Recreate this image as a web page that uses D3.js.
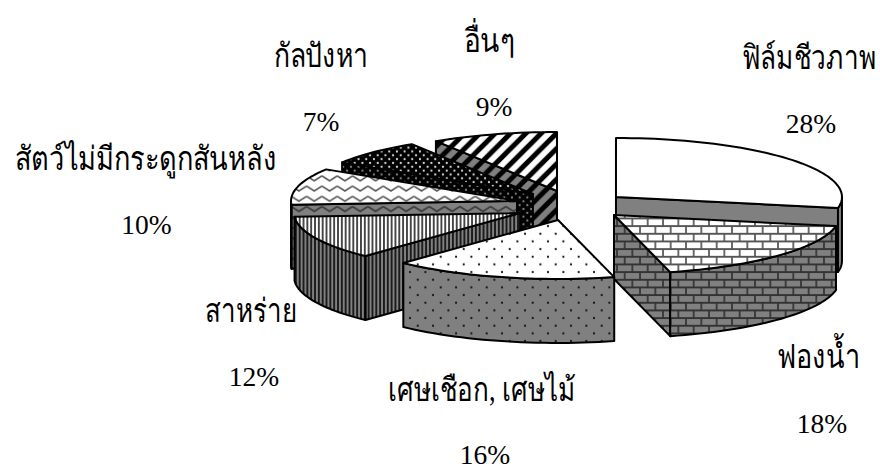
<!DOCTYPE html>
<html><head><meta charset="utf-8"><style>html,body{margin:0;background:#fff}svg{display:block}text{font-family:"Liberation Serif",serif;fill:#000}</style>
<script src="https://cdn.jsdelivr.net/npm/d3@7"></script></head><body><svg id="c" width="880" height="470"></svg>
<script>
const categories=['ฟิล์มชีวภาพ','ฟองน้ำ','เศษเชือก, เศษไม้','สาหร่าย','สัตว์ไม่มีกระดูกสันหลัง','กัลปังหา','อื่นๆ'];
const values=[28,18,16,12,10,7,9];
const explodeX=[.264,.267,.213,.244,.242,.232,.206];
const explodeY=[.213,.248,.262,.319,.273,.264,.247];
const labelCenterX=[809,818.5,482,251,146,321,489];
const labelBaseline=[69,368,401,322,170,67,52];
const labelWidth=[134,83,187,92,263,95,52];
const valueCenterX=[811,822,485,254,146.5,321,494];
const valueBaseline=[133,433,464,386,234,131,116];
const patternIds=['plain','brick','dots','vstripe','zigzag','confetti','diag'];
const drawOrder=[0,1,6,5,4,3,2];

const CX=570,CY=205,RX=226,RY=59,DEPTH=64,GRAY='#808080';
const svg=d3.select('#c');
const defs=svg.append('defs');
function pat(id,w,h,bg,draw){
  const p=defs.append('pattern').attr('id',id).attr('patternUnits','userSpaceOnUse').attr('width',w).attr('height',h);
  p.append('rect').attr('width',w).attr('height',h).attr('fill',bg);
  draw(p);
}
const S=15.33;
[['top','#fff','#555'],['side',GRAY,'#333']].forEach(([k,bg,ink])=>{
  pat('plain-'+k,S,S,bg,()=>{});
  pat('brick-'+k,S,S,bg,p=>{
    p.append('path').attr('fill','none').attr('stroke',ink).attr('stroke-width',1.7)
     .attr('d',`M0 ${S/4}H${S}M0 ${3*S/4}H${S}M${S/4} ${S/4}V${3*S/4}M${3*S/4} ${3*S/4}V${S}M${3*S/4} 0V${S/4}`);
  });
  pat('dots-'+k,S,S,bg,p=>{
    [[S/4,S/4],[3*S/4,3*S/4]].forEach(([x,y])=>p.append('circle').attr('cx',x).attr('cy',y).attr('r',1.1).attr('fill','#111'));
  });
  pat('vstripe-'+k,3.83,8,bg,p=>{
    p.append('rect').attr('width',1.9).attr('height',8).attr('fill',k==='top'?'#444':'#1a1a1a');
  });
  pat('zigzag-'+k,S,10.2,bg,p=>{
    p.append('path').attr('fill','none').attr('stroke',k==='top'?'#555':'#333').attr('stroke-width',1.6)
     .attr('d',`M0 2.5L${S/2} 7.5L${S} 2.5`);
  });
  pat('confetti-'+k,7.67,7.67,'#000',p=>{
    const c=k==='top'?'#ddd':'#888';
    [[1.9,1.9],[5.75,5.75]].forEach(([x,y])=>p.append('circle').attr('cx',x).attr('cy',y).attr('r',1.1).attr('fill',c));
  });
  pat('diag-'+k,S,S,bg,p=>{
    p.append('path').attr('stroke','#000').attr('stroke-width',5).attr('fill','none')
     .attr('d',`M${-S/2} ${S/2}L${S/2} ${-S/2}M0 ${S}L${S} 0M${S/2} ${1.5*S}L${1.5*S} ${S/2}`);
  });
});

const pie=d3.pie().sort(null).value(d=>d)(values);
const deg=d3.scaleLinear().domain([0,360]).range([0,2*Math.PI]);
const line=d3.line();
function pt(tip,a,dy=0){return [tip[0]+RX*Math.sin(a),tip[1]-RY*Math.cos(a)+dy];}
function arcPts(tip,a0,a1,dy=0){
  const n=Math.max(2,Math.ceil((a1-a0)/deg(2)));
  return d3.range(n+1).map(i=>pt(tip,a0+(a1-a0)*i/n,dy));
}
const tips=pie.map((d,i)=>{
  const mid=(d.startAngle+d.endAngle)/2;
  return [CX+RX*explodeX[i]*Math.sin(mid),CY-RY*explodeY[i]*Math.cos(mid)];
});
function face(g,pts,fill){
  g.append('path').attr('d',line(pts)+'Z').attr('fill',fill).attr('stroke','#000').attr('stroke-width',2).attr('stroke-linejoin','round');
}
drawOrder.forEach(i=>{
  const d=pie[i],tip=tips[i],id=patternIds[i];
  const g=svg.append('g').attr('class','slice');
  const side=`url(#${id}-side)`,top=`url(#${id}-top)`;
  const down=[tip[0],tip[1]+DEPTH];
  [d.startAngle,d.endAngle].forEach((a,k)=>{
    const vis=k===0?Math.sin(a)<-1e-6:Math.sin(a)>1e-6;
    if(vis){const e=pt(tip,a);face(g,[tip,e,[e[0],e[1]+DEPTH],down],side);}
  });
  const w0=Math.max(d.startAngle,deg(90)),w1=Math.min(d.endAngle,deg(270));
  if(w1>w0) face(g,[...arcPts(tip,w0,w1),...arcPts(tip,w0,w1,DEPTH).reverse()],side);
  face(g,[tip,...arcPts(tip,d.startAngle,d.endAngle)],top);
});
categories.forEach((c,i)=>{
  const t=svg.append('text').attr('text-anchor','middle').style('font-size','33px').text(c);
  const sx=labelWidth[i]/t.node().getComputedTextLength();
  t.attr('transform',`translate(${labelCenterX[i]},${labelBaseline[i]}) scale(${sx},1)`);
  svg.append('text').attr('x',valueCenterX[i]).attr('y',valueBaseline[i]).attr('text-anchor','middle')
    .style('font-size','27.5px').text(values[i]+'%');
});
</script></body></html>
